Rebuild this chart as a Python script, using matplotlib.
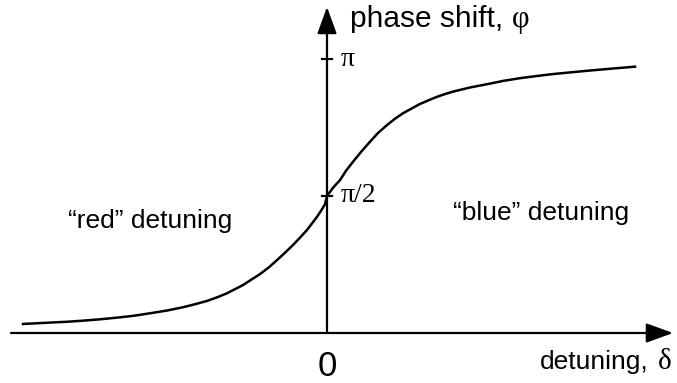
import numpy as np
import matplotlib.pyplot as plt

# phase response: detuning (arb. units), phase (units of pi)
detuning = [-3.04, -2.77, -2.60, -2.44, -2.27, -2.10, -1.93, -1.77, -1.60, -1.44,
            -1.32, -1.20, -1.10, -1.00, -0.92, -0.84, -0.76, -0.67, -0.58, -0.50,
            -0.42, -0.34, -0.27, -0.20, -0.15, -0.10, -0.06, -0.02, 0.0, 0.06,
            0.13, 0.19, 0.26, 0.35, 0.43, 0.51, 0.60, 0.68, 0.76, 0.85,
            0.93, 1.02, 1.10, 1.18, 1.26, 1.43, 1.60, 1.76, 1.93, 2.10,
            2.26, 2.43, 2.60, 2.85, 3.08]
phase = [0.033, 0.038, 0.041, 0.045, 0.050, 0.056, 0.063, 0.072, 0.082, 0.094,
         0.105, 0.117, 0.130, 0.145, 0.160, 0.175, 0.194, 0.215, 0.240, 0.266,
         0.293, 0.321, 0.348, 0.376, 0.400, 0.424, 0.446, 0.470, 0.5, 0.530,
         0.558, 0.592, 0.625, 0.665, 0.698, 0.730, 0.759, 0.782, 0.802, 0.820,
         0.836, 0.850, 0.862, 0.872, 0.881, 0.896, 0.908, 0.920, 0.930, 0.938,
         0.945, 0.951, 0.957, 0.965, 0.972]

tick_values = [1.0, 0.5]
tick_labels = ['\u03c0', '\u03c0/2']

sans = 'Liberation Sans'
serif = 'Liberation Serif'

fig = plt.figure(figsize=(6.77, 3.83), dpi=100)
ax = fig.add_axes([0, 0, 1, 1])
ax.set_xlim(-3.27, 3.50)
ax.set_ylim(-50 / 274, 333 / 274)
ax.axis('off')

arrow = dict(arrowstyle='-|>,head_length=0.55,head_width=0.2',
             mutation_scale=30, lw=1.6, color='k', shrinkA=0, shrinkB=0)

# axes with arrow heads
ax.annotate('', xy=(3.46, 0), xytext=(-3.16, 0), arrowprops=arrow)
ax.annotate('', xy=(0, 1.19), xytext=(0, 0), arrowprops=arrow)

# ticks on the phase axis
for v, lab in zip(tick_values, tick_labels):
    ax.plot([-0.05, 0.05], [v, v], color='k', lw=1.6)
    ax.text(0.14, v, lab, family=serif, fontsize=20, va='center', ha='left')

ax.plot(detuning, phase, color='k', lw=1.8, solid_joinstyle='round')

ax.text(0.23, 1.117, 'phase shift,', family=sans, fontsize=21.5, va='baseline')
ax.text(1.85, 1.117, '\u03c6', family=serif, fontsize=22, va='baseline')

ax.text(-2.59, 0.383, '\u201cred\u201d detuning', family=sans, fontsize=19,
        va='baseline')
ax.text(1.26, 0.412, '\u201cblue\u201d detuning', family=sans, fontsize=19,
        va='baseline')

ax.text(0, -0.157, '0', family=sans, fontsize=25, ha='center', va='baseline')
ax.text(3.22, -0.13, 'detuning,', family=sans, fontsize=19, ha='right',
        va='baseline')
ax.text(3.45, -0.13, '\u03b4', family=serif, fontsize=21, ha='right',
        va='baseline')

fig.savefig('out.png', dpi=100)
